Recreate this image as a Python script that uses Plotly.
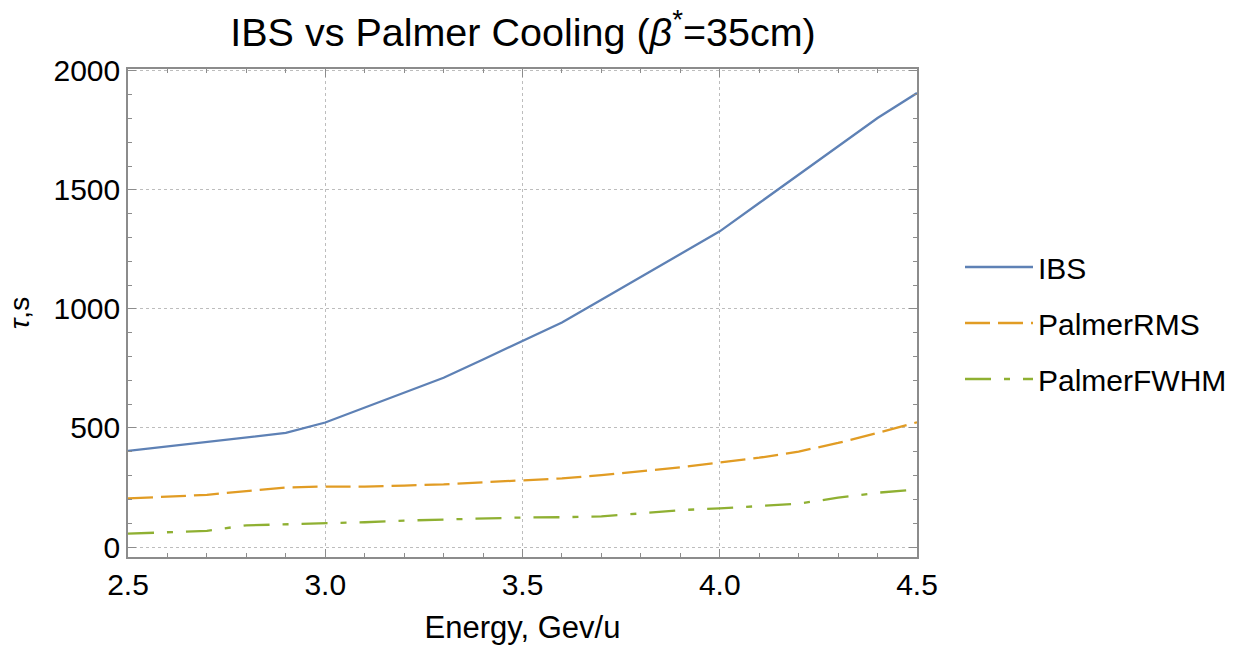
import plotly.graph_objects as go

# Beam energy grid (GeV/u)
energy = [2.5, 2.6, 2.7, 2.8, 2.9, 3.0, 3.1, 3.2, 3.3, 3.4, 3.5,
          3.6, 3.7, 3.8, 3.9, 4.0, 4.1, 4.2, 4.3, 4.4, 4.5]

# Cooling / growth times (s)
tau_ibs = [404, 423, 441, 460, 479, 523, 585, 648, 711, 788, 866,
           943, 1039, 1135, 1230, 1326, 1445, 1564, 1683, 1802, 1907]
tau_palmer_rms = [204, 211, 219, 235, 250, 254, 254, 258, 263, 272, 279,
                  288, 302, 318, 335, 355, 375, 401, 437, 479, 524]
tau_palmer_fwhm = [56, 61, 68, 91, 95, 99, 104, 111, 116, 120, 124,
                   125, 129, 141, 155, 162, 173, 182, 207, 228, 242]

series_names = ["IBS", "PalmerRMS", "PalmerFWHM"]
series_colors = ["#5E81B5", "#E19C24", "#8FB032"]
series_dash = ["solid", "25px,8px", "26px,13px,6px,13px"]

FONT = "Liberation Sans, Arial, sans-serif"

fig = go.Figure()
for i, (name, vals) in enumerate(zip(series_names,
                                     [tau_ibs, tau_palmer_rms, tau_palmer_fwhm])):
    fig.add_trace(go.Scatter(
        x=energy, y=vals, name=name, mode="lines",
        legendgroup=name,
        line=dict(color=series_colors[i], width=2.3, dash=series_dash[i]),
    ))

axis_common = dict(
    showline=True, linecolor="#8c8c8c", linewidth=1.5, mirror="allticks",
    ticks="inside", ticklen=8, tickwidth=1.2, tickcolor="#8c8c8c",
    showgrid=True, gridcolor="#bdbdbd", griddash="dot", gridwidth=1,
    zeroline=False, automargin=False,
    tickfont=dict(family=FONT, size=30, color="black"),
)

fig.update_xaxes(
    range=[2.5, 4.5], tickvals=[2.5, 3.0, 3.5, 4.0, 4.5],
    ticktext=["2.5", "3.0", "3.5", "4.0", "4.5"],
    minor=dict(dtick=0.1, tick0=2.5, ticks="inside", ticklen=4,
               tickcolor="#8c8c8c", showgrid=False),
    title=dict(text="Energy, Gev/u", font=dict(family=FONT, size=31, color="black"),
               standoff=18),
    **axis_common,
)
fig.update_yaxes(
    range=[-42, 2008], tickvals=[0, 500, 1000, 1500, 2000],
    minor=dict(dtick=100, tick0=0, ticks="inside", ticklen=4,
               tickcolor="#8c8c8c", showgrid=False),
    title=dict(text="<i>τ</i>,s", font=dict(family=FONT, size=28, color="black"),
               standoff=16),
    **axis_common,
)

fig.update_layout(
    width=1251, height=645,
    margin=dict(l=128, r=334, t=69, b=88),
    paper_bgcolor="white", plot_bgcolor="white",
    title=dict(text="IBS vs Palmer Cooling (<i>β</i><sup>*</sup>=35cm)",
               font=dict(family=FONT, size=39.5, color="black"),
               x=523 / 1251, xanchor="center", y=1 - 32 / 645, yanchor="middle"),
    legend=dict(
        xref="container", yref="container",
        x=960 / 1251, y=1 - 241 / 645, xanchor="left", yanchor="top",
        font=dict(family=FONT, size=30, color="black"),
        itemwidth=68, tracegroupgap=14, traceorder="grouped",
        bgcolor="rgba(0,0,0,0)",
    ),
    showlegend=True,
)

fig.write_html("out.html")
